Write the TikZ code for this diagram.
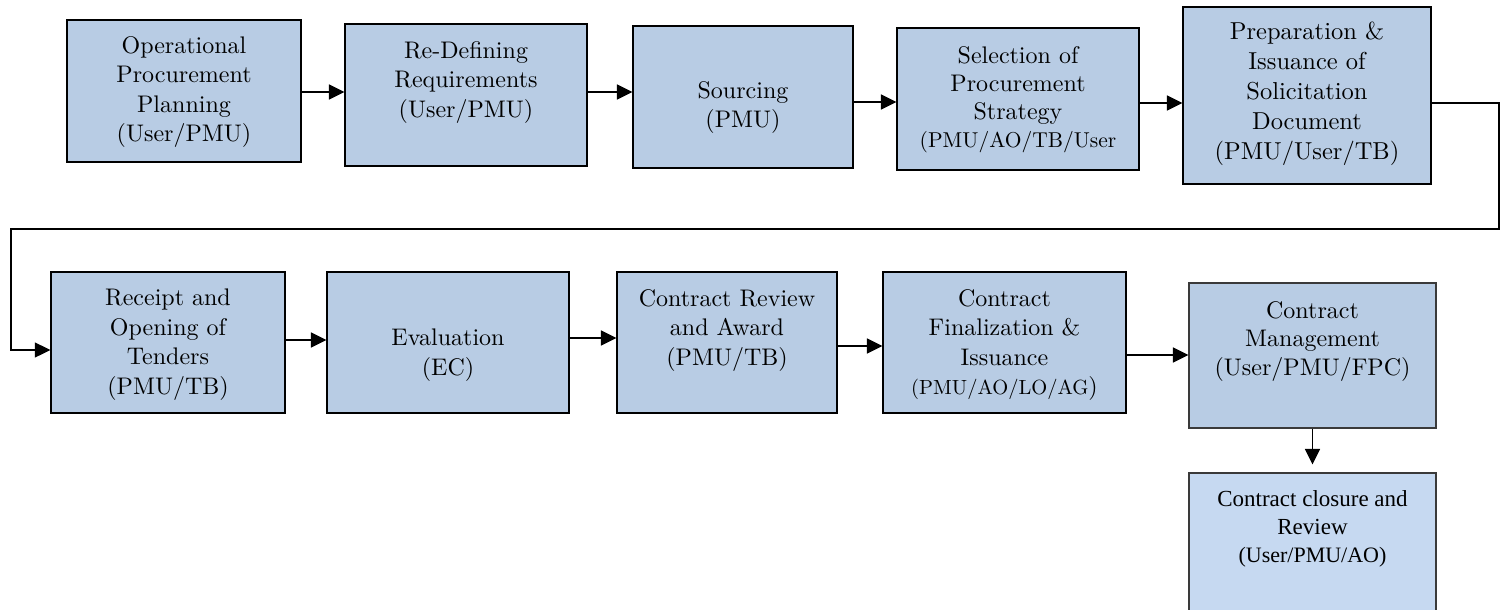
\documentclass[tikz,border=0pt]{standalone}
\usepackage{fontspec}
\setmainfont{lmroman10-regular.otf}
\newfontfamily\timesfont{Liberation Serif}
\usetikzlibrary{arrows.meta}
\definecolor{stepfill}{HTML}{B8CCE4}
\definecolor{lastfill}{HTML}{C6D9F1}
\definecolor{softedge}{HTML}{3A3A3A}

\begin{document}
\begin{tikzpicture}[x=1pt,y=-1pt,
  box/.style={draw=black, line width=1.3pt, fill=stepfill, inner sep=0pt},
  lbl/.style={anchor=north, align=center, inner sep=0pt,
              font=\fontsize{24}{29.5}\selectfont},
  arr/.style={line width=1.7pt, -{Triangle[length=15.5pt,width=15pt]}},
  conn/.style={line width=1.4pt, -{Triangle[length=15.5pt,width=15pt]}},
]
\useasboundingbox (0,0) rectangle (1502,610);
\clip (0,0) rectangle (1502,610);

% first row
\node[box, minimum width=234pt, minimum height=142pt] (b1) at (184,91) {};
\node[lbl] (t1) at (184,36) {Operational\\Procurement\\Planning\\(User/PMU)};

\node[box, minimum width=242pt, minimum height=142pt] (b2) at (466,95) {};
\node[lbl] (t2) at (466,41) {Re-Defining\\Requirements\\(User/PMU)};

\node[box, minimum width=220pt, minimum height=142pt] (b3) at (743,97) {};
\node[lbl] (t3) at (743,81) {Sourcing\\(PMU)};

\node[box, minimum width=242pt, minimum height=142pt] (b4) at (1018,99) {};
\node[lbl, font=\fontsize{24}{28}\selectfont] (t4) at (1018,46) {Selection of\\Procurement\\Strategy\\{\fontsize{21.5}{28}\selectfont(PMU/AO/TB/User}};

\node[box, minimum width=248pt, minimum height=177pt] (b5) at (1307,95.5) {};
\node[lbl, font=\fontsize{24.5}{30}\selectfont] (t5) at (1307,22) {Preparation \&\\Issuance of\\Solicitation\\Document\\(PMU/User/TB)};

% second row
\node[box, minimum width=234pt, minimum height=141pt] (b6) at (168,342.5) {};
\node[lbl] (t6) at (168,289) {Receipt and\\Opening of\\Tenders\\(PMU/TB)};

\node[box, minimum width=242pt, minimum height=141pt] (b7) at (448,342.5) {};
\node[lbl] (t7) at (448,329) {Evaluation\\(EC)};

\node[box, minimum width=220pt, minimum height=141pt] (b8) at (727,342.5) {};
\node[lbl] (t8) at (727,289) {Contract Review\\and Award\\(PMU/TB)};

\node[box, minimum width=243pt, minimum height=141pt] (b9) at (1004.5,342.5) {};
\node[lbl] (t9) at (1004.5,289) {Contract\\Finalization \&\\Issuance\\{\fontsize{20.5}{29.5}\selectfont(PMU/AO/LO/AG})};

\node[box, draw=softedge, minimum width=247pt, minimum height=145pt] (b10) at (1312.5,355.5) {};
\node[lbl, font=\fontsize{24}{28.5}\selectfont] (t10) at (1312.5,301) {Contract\\Management\\(User/PMU/FPC)};

\node[box, draw=softedge, fill=lastfill, minimum width=247pt, minimum height=147pt] (b11) at (1312.5,546.5) {};
\node[lbl, font=\timesfont\fontsize{23}{28}\selectfont] (t11) at (1312.5,490)
  {Contract closure and\\Review\\{\fontsize{22}{28}\selectfont(User/PMU/AO)}};

% connectors, first row
\draw[arr] (b1.east |- 0,92) -- (b2.west |- 0,92);
\draw[arr] (b2.east |- 0,92) -- (b3.west |- 0,92);
\draw[arr] (b3.east |- 0,102) -- (b4.west |- 0,102);
\draw[arr] (b4.east |- 0,103) -- (b5.west |- 0,103);

% wrap-around to the second row
\coordinate (turnR) at (1499,103);
\coordinate (turnL) at (11,229);
\draw[conn] (b5.east |- turnR) -- (turnR) |- (turnL) |- (b6.west |- 0,350);

% connectors, second row
\draw[arr] (b6.east |- 0,340) -- (b7.west |- 0,340);
\draw[arr] (b7.east |- 0,338) -- (b8.west |- 0,338);
\draw[arr] (b8.east |- 0,346) -- (b9.west |- 0,346);
\draw[arr] (b9.east |- 0,355) -- (b10.west |- 0,355);
\draw[arr, shorten >=8pt] (b10.south) -- (b11.north);
\end{tikzpicture}
\end{document}
